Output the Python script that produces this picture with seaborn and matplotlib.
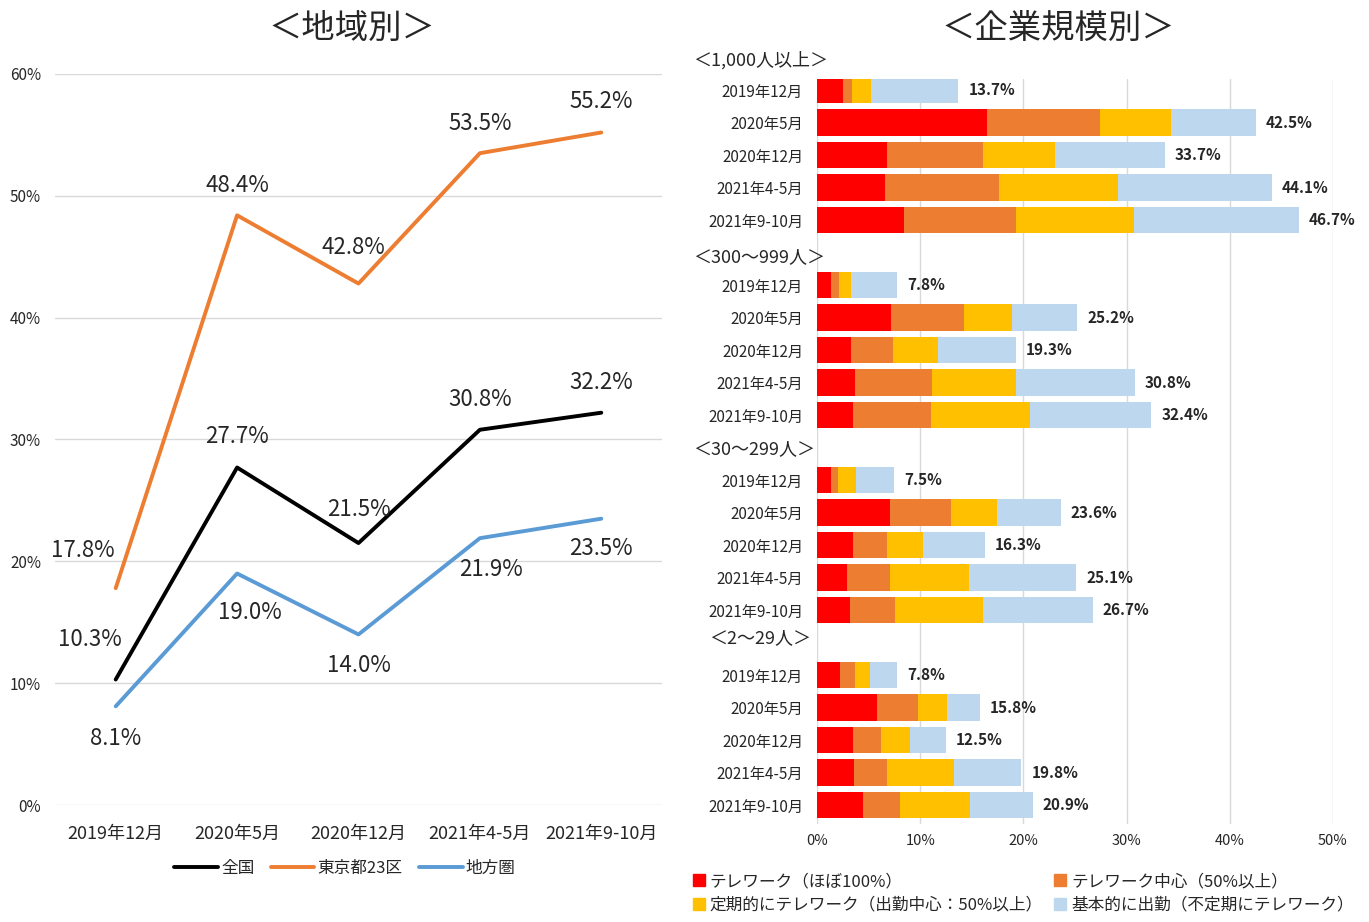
import pandas as pd
import matplotlib.pyplot as plt
import seaborn as sns

# ------------------------------
# Données : graphique de gauche (par région)
periods = ["2019年12月", "2020年5月", "2020年12月", "2021年4-5月", "2021年9-10月"]
series_names = ["全国", "東京都23区", "地方圏"]
zenkoku = [10.3, 27.7, 21.5, 30.8, 32.2]
tokyo23 = [17.8, 48.4, 42.8, 53.5, 55.2]
chihou = [8.1, 19.0, 14.0, 21.9, 23.5]

# Données : graphique de droite (par taille d'entreprise)
groups = ["＜1,000人以上＞", "＜300～999人＞", "＜30～299人＞", "＜2～29人＞"]
categories = ["テレワーク（ほぼ100%）", "テレワーク中心（50%以上）",
              "定期的にテレワーク（出勤中心：50%以上）", "基本的に出勤（不定期にテレワーク）"]
full_tw = [2.5, 16.5, 6.8, 6.6, 8.4,
           1.4, 7.2, 3.3, 3.7, 3.5,
           1.4, 7.1, 3.5, 2.9, 3.2,
           2.2, 5.8, 3.5, 3.6, 4.5]
mostly_tw = [0.9, 10.9, 9.3, 11.0, 10.9,
             0.7, 7.0, 4.1, 7.4, 7.5,
             0.6, 5.9, 3.3, 4.2, 4.4,
             1.5, 4.0, 2.7, 3.2, 3.5]
regular_tw = [1.8, 6.9, 7.0, 11.6, 11.4,
              1.2, 4.7, 4.3, 8.2, 9.6,
              1.8, 4.4, 3.5, 7.6, 8.5,
              1.4, 2.8, 2.8, 6.5, 6.8]
office = [8.5, 8.2, 10.6, 14.9, 16.0,
          4.5, 6.3, 7.6, 11.5, 11.8,
          3.7, 6.2, 6.0, 10.4, 10.6,
          2.7, 3.2, 3.5, 6.5, 6.1]
totals = [13.7, 42.5, 33.7, 44.1, 46.7,
          7.8, 25.2, 19.3, 30.8, 32.4,
          7.5, 23.6, 16.3, 25.1, 26.7,
          7.8, 15.8, 12.5, 19.8, 20.9]

line_colors = ["#000000", "#ED7D31", "#5B9BD5"]
bar_colors = ["#FF0000", "#ED7D31", "#FFC000", "#BDD7EE"]

# ------------------------------
sns.set_theme(style="white")
plt.rcParams['font.family'] = ['Noto Sans CJK JP', 'DejaVu Sans']

fig = plt.figure(figsize=(13.69, 9.22), dpi=100)
W, H = 1369, 922


def px_axes(x0, y0, x1, y1):
    return fig.add_axes([x0 / W, 1 - y1 / H, (x1 - x0) / W, (y1 - y0) / H])


# ------------------------------
# 1) Graphique en lignes
ax1 = px_axes(55, 74, 662, 805)
line_df = pd.DataFrame({
    "period": periods * 3,
    "value": zenkoku + tokyo23 + chihou,
    "series": [s for s in series_names for _ in periods],
})
sns.lineplot(data=line_df, x="period", y="value", hue="series",
             palette=line_colors, linewidth=2.8, sort=False, ax=ax1)
ax1.set_ylim(0, 60)
ax1.set_xlim(-0.5, 4.5)
ax1.set_yticks(range(0, 61, 10))
ax1.set_yticklabels([f"{v}%" for v in range(0, 61, 10)], fontsize=11, color="#262626")
ax1.set_xticks(range(len(periods)))
ax1.set_xticklabels(periods, fontsize=13)
ax1.tick_params(axis="y", pad=10, length=0)
ax1.tick_params(axis="x", pad=14, length=0)
ax1.set_xlabel("")
ax1.set_ylabel("")
ax1.grid(axis="y", color="#D9D9D9", linewidth=1)
for s in ax1.spines.values():
    s.set_visible(False)

# décalage des étiquettes (pixels)
offsets = {
    "全国": [(-26, 40), (0, 31), (0, 34), (0, 30), (0, 30)],
    "東京都23区": [(-33, 38), (0, 30), (-5, 36), (0, 30), (0, 31)],
    "地方圏": [(0, -32), (13, -39), (0, -31), (11, -31), (0, -30)],
}
for name, vals in zip(series_names, [zenkoku, tokyo23, chihou]):
    for i, v in enumerate(vals):
        ax1.annotate(f"{v:.1f}%", (i, v), xytext=offsets[name][i],
                     textcoords="offset pixels", ha="center", va="center", fontsize=16)

sns.move_legend(ax1, "center", bbox_to_anchor=(345 / W, 1 - 868 / H),
                bbox_transform=fig.transFigure, ncol=3, frameon=False, title=None,
                fontsize=12, handlelength=2.6, columnspacing=1.0, handletextpad=0.2)

fig.text(352 / W, 1 - 28 / H, "＜地域別＞", ha="center", va="center", fontsize=24)

# ------------------------------
# 2) Barres empilées par taille d'entreprise
ax2 = px_axes(817, 79, 1333, 824)
slots = []
for g in range(len(groups)):
    slots += [6 * g + 1 + k for k in range(len(periods))]
bar_df = pd.DataFrame({"slot": slots, "total": totals})
layers = [full_tw, mostly_tw, regular_tw, office]
cum = [0.0] * len(slots)
for j, layer in enumerate(layers):
    cum = [c + v for c, v in zip(cum, layer)]
    bar_df[f"c{j}"] = cum

for j in reversed(range(4)):
    sns.barplot(data=bar_df, x=f"c{j}", y="slot", orient="y", native_scale=True,
                color=bar_colors[j], saturation=1, width=0.82, errorbar=None,
                linewidth=0, ax=ax2)

ax2.set_xlim(0, 50)
ax2.set_ylim(23.58, 0.66)
ax2.set_xticks(range(0, 51, 10))
ax2.set_xticklabels([f"{v}%" for v in range(0, 51, 10)], fontsize=10.5)
ax2.tick_params(axis="x", pad=7, length=0)
ax2.set_yticks(slots)
ax2.set_yticklabels(periods * len(groups), fontsize=11)
ax2.tick_params(axis="y", pad=10, length=0)
ax2.set_xlabel("")
ax2.set_ylabel("")
ax2.grid(axis="x", color="#D9D9D9", linewidth=1)
ax2.grid(axis="y", visible=False)
for s in ax2.spines.values():
    s.set_visible(False)

for y, t in zip(slots, totals):
    ax2.annotate(f"{t:.1f}%", (t, y), xytext=(10, 0), textcoords="offset pixels",
                 ha="left", va="center", fontsize=11, fontweight="bold",
                 annotation_clip=False)

header_slots = [0.1, 6.15, 12.05, 17.85]
header_x = [-0.24, -0.24, -0.24, -0.21]
for name, hy, hx in zip(groups, header_slots, header_x):
    ax2.text(hx, hy, name, transform=ax2.get_yaxis_transform(),
             ha="left", va="center", fontsize=13, clip_on=False)

handles = [plt.Rectangle((0, 0), 1, 1, color=c) for c in bar_colors]
order = [0, 2, 1, 3]
fig.legend([handles[i] for i in order], [categories[i] for i in order],
           loc="upper left", bbox_to_anchor=(678 / W, 1 - 858 / H), ncol=2,
           frameon=False, fontsize=12, handlelength=0.7, handleheight=0.7,
           handletextpad=0.3, columnspacing=0.7, labelspacing=0.4)

fig.text(1058 / W, 1 - 28 / H, "＜企業規模別＞", ha="center", va="center", fontsize=24)

fig.savefig("out.png", dpi=100)
